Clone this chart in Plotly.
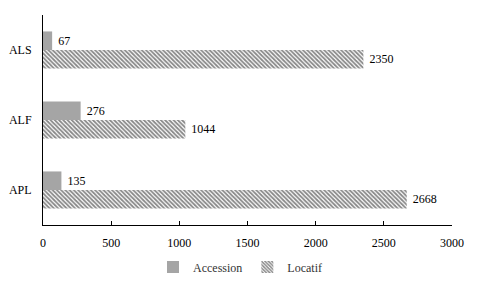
import plotly.graph_objects as go

categories = ["ALS", "ALF", "APL"]
accession = [67, 276, 135]
locatif = [2350, 1044, 2668]
x_ticks = [0, 500, 1000, 1500, 2000, 2500, 3000]

font = "Liberation Serif"

fig = go.Figure()
fig.add_trace(go.Bar(
    y=categories, x=locatif, name="Locatif", orientation="h",
    marker=dict(color="white", line=dict(width=0),
                pattern=dict(shape="\\", fgcolor="#111111", bgcolor="white", size=3, solidity=0.6)),
    text=[str(v) for v in locatif], textposition="outside", texttemplate=" %{text}",
    textfont=dict(family=font, size=12, color="black"), cliponaxis=False,
    legendrank=2,
))
fig.add_trace(go.Bar(
    y=categories, x=accession, name="Accession", orientation="h",
    marker=dict(color="#a5a5a5", line=dict(width=0)),
    text=[str(v) for v in accession], textposition="outside", texttemplate=" %{text}",
    textfont=dict(family=font, size=12, color="black"), cliponaxis=False,
    legendrank=1,
))

fig.update_layout(
    width=480, height=288,
    margin=dict(l=43, r=28, t=15, b=63, autoexpand=False),
    paper_bgcolor="white", plot_bgcolor="white",
    barmode="group", bargap=0.47, bargroupgap=0,
    font=dict(family=font, size=12, color="black"),
    showlegend=True,
    legend=dict(orientation="h", x=0.5, xanchor="center", xref="container",
                y=1 - 267 / 288, yanchor="middle", yref="container",
                font=dict(family=font, size=12, color="#333333"),
                itemwidth=30, traceorder="normal", tracegroupgap=0),
    xaxis=dict(range=[0, 3000], tickvals=x_ticks, showgrid=False, zeroline=False,
               showline=True, linecolor="black", linewidth=1, automargin=False,
               ticks="inside", ticklen=4, tickcolor="black", ticklabelstandoff=7,
               tickfont=dict(family=font, size=12, color="black")),
    yaxis=dict(categoryorder="array", categoryarray=["APL", "ALF", "ALS"],
               showgrid=False, zeroline=False, showline=True, linecolor="black", linewidth=1,
               ticks="", ticklabelstandoff=8, automargin=False,
               tickfont=dict(family=font, size=12, color="black")),
)

fig.write_html("out.html")
